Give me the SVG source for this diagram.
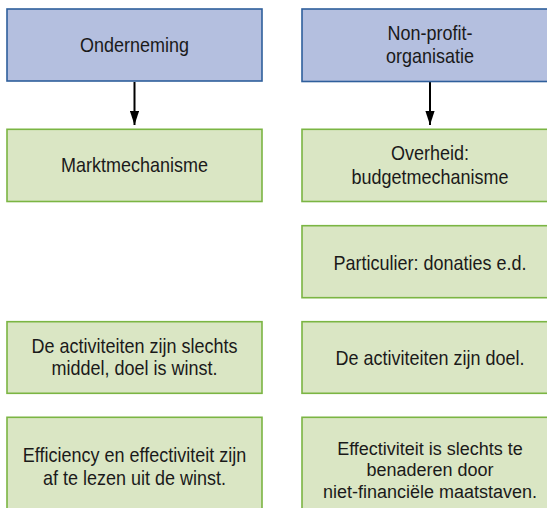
<svg xmlns="http://www.w3.org/2000/svg" width="547" height="508" viewBox="0 0 547 508">
<defs>
<style>
.blue{fill:#b4bfdf;stroke:#2f5f9c;stroke-width:1.6}
.green{fill:#dae6c4;stroke:#7bb543;stroke-width:1.6}
text{font-family:"Liberation Sans",Arial,sans-serif;font-size:21px;fill:#1a1a1a;text-anchor:middle}
text.tight{font-size:19px}
.conn{stroke:#000;stroke-width:2;fill:none}
</style>
<marker id="arr" viewBox="0 0 10 10" refX="10" refY="5" markerWidth="7" markerHeight="4.6" orient="auto" markerUnits="strokeWidth" preserveAspectRatio="none">
<path d="M0,0 L10,5 L0,10 z" fill="#000"/>
</marker>
</defs>
<rect width="547" height="508" fill="#fff"/>
<g id="connectors">
<line class="conn" x1="134.5" y1="82" x2="134.5" y2="125" marker-end="url(#arr)"/>
<line class="conn" x1="430" y1="82" x2="430" y2="125" marker-end="url(#arr)"/>
</g>
<g id="onderneming">
<rect class="blue" x="7" y="9" width="255" height="72"/>
<text transform="translate(134.5 51.5) scale(0.857 1)">Onderneming</text>
</g>
<g id="nonprofit">
<rect class="blue" x="302" y="9" width="256" height="72.5"/>
<text transform="translate(430 39.5) scale(0.857 1)">Non-profit-</text>
<text transform="translate(430 63) scale(0.857 1)">organisatie</text>
</g>
<g id="marktmechanisme">
<rect class="green" x="7" y="129.3" width="255" height="72.2"/>
<text transform="translate(134.5 171.5) scale(0.857 1)">Marktmechanisme</text>
</g>
<g id="overheid">
<rect class="green" x="302" y="129.3" width="256" height="72.2"/>
<text transform="translate(430 160) scale(0.857 1)">Overheid:</text>
<text transform="translate(430 184) scale(0.857 1)">budgetmechanisme</text>
</g>
<g id="particulier">
<rect class="green" x="302" y="225.7" width="256" height="72"/>
<text transform="translate(430 269.5) scale(0.857 1)">Particulier: donaties e.d.</text>
</g>
<g id="activiteiten-middel">
<rect class="green" x="7" y="321.7" width="255" height="71.6"/>
<text transform="translate(134.5 352.5) scale(0.857 1)">De activiteiten zijn slechts</text>
<text transform="translate(134.5 375) scale(0.857 1)">middel, doel is winst.</text>
</g>
<g id="activiteiten-doel">
<rect class="green" x="302" y="321.7" width="256" height="71.6"/>
<text transform="translate(430 364.5) scale(0.857 1)">De activiteiten zijn doel.</text>
</g>
<g id="efficiency">
<rect class="green" x="7" y="417.3" width="255" height="100"/>
<text transform="translate(134.5 461.5) scale(0.857 1)">Efficiency en effectiviteit zijn</text>
<text transform="translate(134.5 485) scale(0.857 1)">af te lezen uit de winst.</text>
</g>
<g id="effectiviteit">
<rect class="green" x="302" y="417.3" width="256" height="100"/>
<text class="tight" transform="translate(430 454.5) scale(0.947 1)">Effectiviteit is slechts te</text>
<text class="tight" transform="translate(430 476) scale(0.947 1)">benaderen door</text>
<text class="tight" transform="translate(430 497.5) scale(0.947 1)">niet-financiële maatstaven.</text>
</g>
</svg>
